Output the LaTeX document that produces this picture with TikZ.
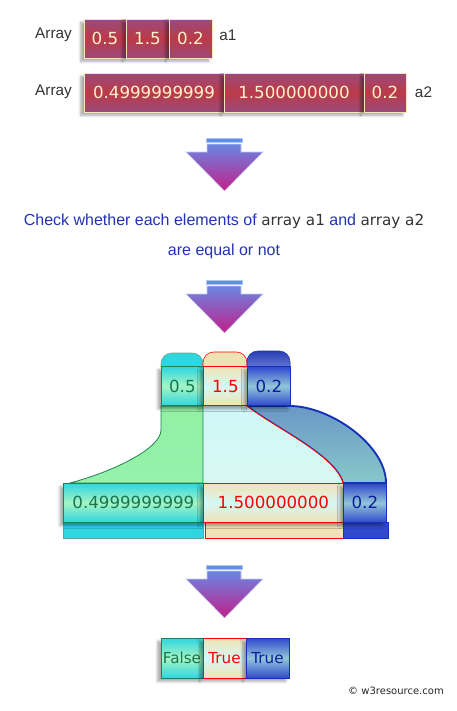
\documentclass[tikz,border=0pt]{standalone}
\usepackage{fontspec}
\setmainfont{DejaVu Sans}
\newfontfamily\arialfont{Liberation Sans}
\usetikzlibrary{shadows.blur,calc}

\definecolor{cellpurple}{HTML}{9A4A7C}
\definecolor{cellred}{HTML}{BC3A48}
\definecolor{cellline}{HTML}{F6E8B4}
\definecolor{celltext}{HTML}{FFF3C8}
\definecolor{aqua}{HTML}{2ED6E0}
\definecolor{mint}{HTML}{A6F4C4}
\definecolor{greenfill}{HTML}{92F0A4}
\definecolor{greenline}{HTML}{1E8456}
\definecolor{greentext}{HTML}{17774E}
\definecolor{beige}{HTML}{F0E2B4}
\definecolor{pale}{HTML}{D6F8F2}
\definecolor{cyanfill}{HTML}{D0F8F8}
\definecolor{royal}{HTML}{3048CE}
\definecolor{steel}{HTML}{92C6D8}
\definecolor{bandtop}{HTML}{6A98C6}
\definecolor{bandbottom}{HTML}{88C8CA}
\definecolor{blueline}{HTML}{1432B8}
\definecolor{navy}{HTML}{0A1E9E}
\definecolor{arrowtop}{HTML}{6A86E2}
\definecolor{arrowtip}{HTML}{C21E8A}
\definecolor{barblue}{HTML}{5E8EE6}
\definecolor{msgblue}{HTML}{2232B4}
\definecolor{msggray}{HTML}{333333}

\newcommand\codeword[1]{{\color{msggray}\rmfamily\fontsize{11.4}{14}\selectfont #1}}

\begin{document}
\begin{tikzpicture}[x=0.75pt,y=-0.75pt,
  cellbase/.style={minimum height=29.25pt,inner sep=0pt,line width=0.6pt,
                   font=\fontsize{12.5}{14}\selectfont,
                   blur shadow={shadow xshift=-2.5pt,shadow yshift=-2.5pt,shadow blur radius=2pt,shadow opacity=35}},
  arraycell/.style={cellbase,draw=cellline,top color=cellpurple,bottom color=cellpurple,middle color=cellred,text=celltext},
  aquacell/.style={cellbase,draw=greenline,top color=aqua,bottom color=aqua,middle color=mint,text=greentext},
  beigecell/.style={cellbase,draw=red,top color=beige,bottom color=beige,middle color=pale,text=red},
  bluecell/.style={cellbase,draw=blueline,top color=royal,bottom color=royal,middle color=steel,text=navy},
  arraylbl/.style={font=\arialfont\fontsize{11.5}{13}\selectfont,text=msggray},
  msg/.style={font=\arialfont\fontsize{12}{14}\selectfont,text=msgblue}
]
  \useasboundingbox (0,0) rectangle (457,711);

  % Input arrays a1 and a2
  \node[arraylbl] (lbl1) at (53.5,35) {Array};
  \node[arraycell,minimum width=31.5pt]  (a1c1) at (105,38.5)   {0.5};
  \node[arraycell,minimum width=32.25pt] (a1c2) at (147.5,38.5) {1.5};
  \node[arraycell,minimum width=32.25pt] (a1c3) at (190.5,38.5) {0.2};
  \node[arraylbl] (name1) at (228,35) {a1};

  \node[arraylbl] (lbl2) at (53.5,92) {Array};
  \node[arraycell,minimum width=105pt]  (a2c1) at (154,92.5) {0.4999999999};
  \node[arraycell,minimum width=105pt]  (a2c2) at (294,92.5) {1.500000000};
  \node[arraycell,minimum width=31.5pt] (a2c3) at (385,92.5) {0.2};
  \node[arraylbl] (name2) at (423.5,92) {a2};

  % Down arrows
  \foreach \y in {138,280,565} {
    \fill[barblue,draw=barblue!50!white,line width=0.4pt] (206,\y) rectangle (242,\y+4);
    \shade[top color=arrowtop,bottom color=arrowtip,draw=arrowtop!40!white,line width=0.4pt]
      (207,\y+6) -- (241,\y+6) -- (241,\y+14) -- (263,\y+14) -- (224.5,\y+53)
      -- (186,\y+14) -- (207,\y+14) -- cycle;
  }

  % Message
  \node[msg] (msg1) at (224,221) {Check whether each elements of \codeword{array a1} and \codeword{array a2}};
  \node[msg] (msg2) at (224,251) {are equal or not};

  % Element-wise comparison: corners of the cells
  \coordinate (t1sw) at (161,406);
  \coordinate (t2sw) at (203,406);
  \coordinate (t3sw) at (247,406);
  \coordinate (t3se) at (290,406);
  \coordinate (b1nw) at (63,483);
  \coordinate (b2nw) at (203,483);
  \coordinate (b3nw) at (343,483);
  \coordinate (b3ne) at (386,483);

  % caps over the top cells
  \draw[greenline!70,fill=aqua,rounded corners=8pt] ($(t1sw)+(0,-39)$) -- ++(0,-14) -- ($(t2sw)+(0,-53)$) -- ++(0,14);
  \draw[red,fill=beige,rounded corners=8pt] ($(t2sw)+(0,-39)$) -- ++(0,-15) -- ($(t3sw)+(0,-54)$) -- ++(0,15);
  \draw[blueline,top color=royal!85!black,bottom color=royal!75!white,rounded corners=8pt] ($(t3sw)+(0,-39)$) -- ++(0,-16) -- ($(t3se)+(0,-55)$) -- ++(0,16);

  % strips under the bottom cells
  \draw[greenline!70,fill=aqua] ($(b1nw)+(0,39)$) rectangle ($(b2nw)+(0,55)$);
  \draw[red,fill=beige] ($(b2nw)+(2,39)$) rectangle ($(b3nw)+(2,55)$);
  \draw[blueline,fill=royal] ($(b3nw)+(0,39)$) rectangle ($(b3ne)+(2,55)$);

  % band from 0.2 to 0.2
  \draw[blueline,line width=1.4pt,top color=bandtop,bottom color=bandbottom]
    (t3sw) -- (t3se) .. controls +(40,0) and +(0,-38) .. (b3ne)
    -- (b3nw) .. controls +(-8,-28) and +(28,22) .. (t3sw) -- cycle;

  % region from 1.5 to 1.500000000
  \fill[top color=cyanfill,bottom color=pale] (t2sw) -- (t3sw)
    .. controls +(28,22) and +(-8,-28) .. (b3nw) -- (b2nw) -- cycle;
  \draw[red,line width=0.6pt] (t3sw) .. controls +(28,22) and +(-8,-28) .. (b3nw);

  % region from 0.5 to 0.4999999999
  \draw[greenline,line width=0.6pt,top color=greenfill,bottom color=greenfill!80!mint]
    (t2sw) -- (t1sw) -- ++(0,24)
    .. controls +(0,18) and +(45,-12) .. ($(b1nw)+(7,0)$) -- (b2nw) -- cycle;

  % cells
  \node[aquacell,minimum width=31.5pt,anchor=south west]  (t1) at (t1sw) {0.5};
  \node[beigecell,minimum width=33pt,anchor=south west]   (t2) at (t2sw) {1.5};
  \node[bluecell,minimum width=32.25pt,anchor=south west] (t3) at (t3sw) {0.2};

  \node[aquacell,minimum width=105pt,anchor=north west]   (b1) at (b1nw) {0.4999999999};
  \node[beigecell,minimum width=105pt,anchor=north west]  (b2) at (b2nw) {1.500000000};
  \node[bluecell,minimum width=32.25pt,anchor=north west] (b3) at (b3nw) {0.2};

  % Result
  \node[aquacell,minimum width=31.5pt,minimum height=30pt,font=\fontsize{11.4}{13}\selectfont]  (r1) at (182,658)   {False};
  \node[beigecell,minimum width=32.25pt,minimum height=30pt,font=\fontsize{11.4}{13}\selectfont] (r2) at (224.5,658) {True};
  \node[bluecell,minimum width=32.25pt,minimum height=30pt,font=\fontsize{11.4}{13}\selectfont]  (r3) at (267.5,658) {True};

  \node[font=\fontsize{7.5}{9}\selectfont,text=black!85] (copy) at (396,691) {© w3resource.com};
\end{tikzpicture}
\end{document}
